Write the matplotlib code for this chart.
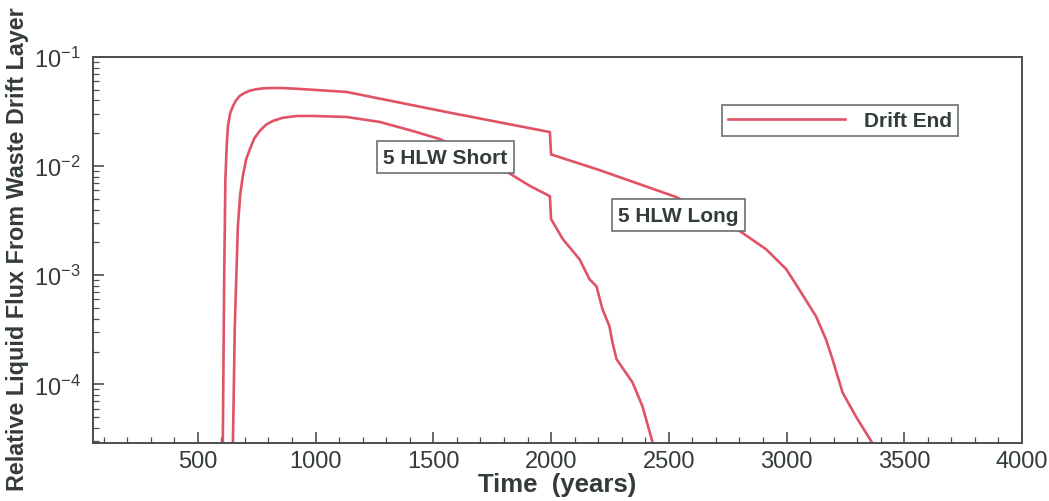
import matplotlib
matplotlib.use("Agg")
import matplotlib.pyplot as plt
from matplotlib.ticker import MultipleLocator, FixedLocator

plt.rcParams["font.family"] = ["Liberation Sans", "DejaVu Sans"]
plt.rcParams["mathtext.fontset"] = "custom"
plt.rcParams["mathtext.rm"] = "Liberation Sans"
plt.rcParams["mathtext.it"] = "Liberation Sans:italic"
plt.rcParams["mathtext.bf"] = "Liberation Sans:bold"

# Drift-end liquid flux, 5 HLW long package (years, relative flux)
t_long = [606, 612, 617, 623, 628, 638, 650, 662, 678, 700, 721, 745, 777,
          810, 850, 930, 1132, 1556, 1781, 1995, 2000, 2205, 2532, 2800,
          2913, 2998, 3054, 3125, 3167, 3195, 3238, 3294, 3360]
f_long = [2.9e-5, 1.0e-3, 7.6e-3, 0.016, 0.0234, 0.031, 0.0357, 0.040,
          0.0441, 0.047, 0.0491, 0.0505, 0.0516, 0.0519, 0.052, 0.051,
          0.0478, 0.0313, 0.0252, 0.0205, 0.0128, 0.0092, 0.0052, 0.00255,
          0.00173, 0.00114, 7.4e-4, 4.2e-4, 2.6e-4, 1.7e-4, 8.4e-5, 5.1e-5,
          3.0e-5]

# Drift-end liquid flux, 5 HLW short package
t_short = [649, 657, 670, 680, 691, 705, 721, 740, 763, 790, 818, 860, 920,
           988, 1132, 1272, 1412, 1527, 1815, 1909, 1995, 2000, 2050, 2121,
           2163, 2193, 2218, 2248, 2261, 2278, 2346, 2388, 2430]
f_short = [2.9e-5, 3.4e-4, 2.8e-3, 5.5e-3, 8.1e-3, 0.0115, 0.0143, 0.018,
           0.0210, 0.0240, 0.0259, 0.0277, 0.0288, 0.0288, 0.0282, 0.0254,
           0.0210, 0.0177, 0.0088, 0.0066, 0.0053, 0.00327, 0.00214, 0.0014,
           9.2e-4, 7.9e-4, 4.9e-4, 3.4e-4, 2.4e-4, 1.7e-4, 1.04e-4, 6.3e-5,
           3.0e-5]

x_ticks = [500, 1000, 1500, 2000, 2500, 3000, 3500, 4000]

LINE = "#e05266"
TXT = "#333b3b"
AX = "#4a4f4f"

fig = plt.figure(figsize=(10.49, 5.02), dpi=100)
ax = fig.add_axes([0.0887, 0.1155, 0.8856, 0.769])

ax.plot(t_long, f_long, color=LINE, lw=1.9, label="Drift End")
ax.plot(t_short, f_short, color=LINE, lw=1.9)

ax.set_yscale("log")
ax.set_xlim(55, 4000)
ax.set_ylim(2.9e-5, 0.1)

ax.xaxis.set_major_locator(FixedLocator(x_ticks))
ax.xaxis.set_minor_locator(MultipleLocator(100))

for s in ax.spines.values():
    s.set_color(AX)
    s.set_linewidth(1.4)
ax.tick_params(which="both", direction="in", top=False, right=False,
               colors=AX, labelcolor=TXT, labelsize=17)
ax.tick_params(which="major", length=8, width=1.2)
ax.tick_params(which="minor", length=4, width=0.9)
ax.tick_params(axis="x", pad=5)
ax.tick_params(axis="y", pad=9)

ax.set_xlabel("Time  (years)", fontsize=18.5, fontweight="bold", color=TXT,
              labelpad=0)
fig.text(0.0165, 0.503, "Relative Liquid Flux From Waste Drift Layer",
         rotation=90, ha="center", va="center", fontsize=16.8,
         fontweight="bold", color=TXT)

box = dict(boxstyle="square,pad=0.3", fc="white", ec="#6a6f6f", lw=1.2)
ax.text(1552, 0.0121, "5 HLW Short", ha="center", va="center",
        fontsize=15, fontweight="bold", color=TXT, bbox=box)
ax.text(2541, 0.00355, "5 HLW Long", ha="center", va="center",
        fontsize=15, fontweight="bold", color=TXT, bbox=box)

leg = ax.legend(loc="upper right", bbox_to_anchor=(0.931, 0.876),
                borderaxespad=0, handlelength=5.6, handletextpad=0.9,
                borderpad=0.3, fancybox=False, framealpha=1,
                edgecolor="#6a6f6f", prop={"size": 15, "weight": "bold"})
leg.get_frame().set_linewidth(1.2)
for t in leg.get_texts():
    t.set_color(TXT)

fig.savefig("out.png", dpi=100)
